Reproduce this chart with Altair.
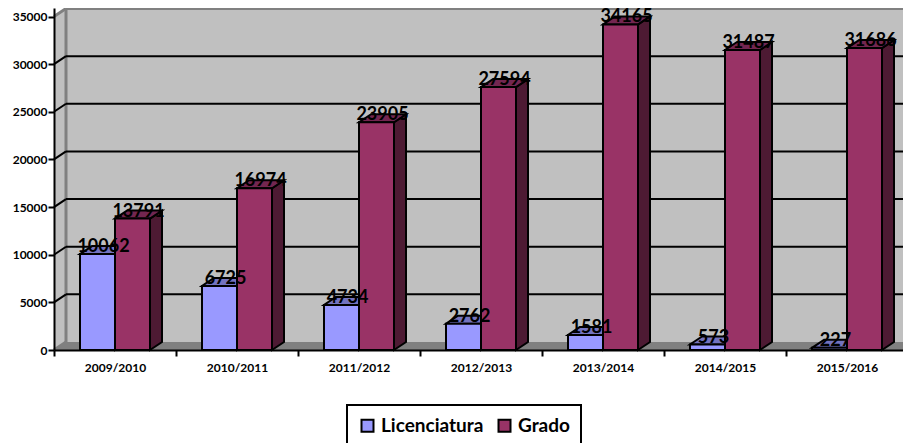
import json
import altair as alt
import pandas as pd

years = ["2009/2010", "2010/2011", "2011/2012", "2012/2013", "2013/2014", "2014/2015", "2015/2016"]
licenciatura = [10062, 6725, 4734, 2762, 1581, 573, 227]
grado = [13791, 16974, 23905, 27594, 34165, 31487, 31686]
y_ticks = [0, 5000, 10000, 15000, 20000, 25000, 30000, 35000]
series_names = ["Licenciatura", "Grado"]
series_colors = ["#9999FF", "#993366"]
top_colors = ["#7373BF", "#732650"]
side_colors = ["#4D4D80", "#4D1A33"]
FONT = "Lato"

# category units / value units of the drawn depth
PLOT_W = 849
PLOT_H = 342
PX_PER_CAT = 122.0
PX_PER_VAL = 333.5 / 35000
DX = 12 / PX_PER_CAT
DY = 8 / PX_PER_VAL
XMAX = PLOT_W / PX_PER_CAT
YMAX = PLOT_H / PX_PER_VAL
BAR_START = 26 / PX_PER_CAT
BAR_W = 35 / PX_PER_CAT

x_scale = alt.Scale(domain=[0, XMAX], nice=False, zero=False)
y_scale = alt.Scale(domain=[0, YMAX], nice=False)
label_array = json.dumps(years)
x_axis = alt.Axis(
    title=None, values=list(range(len(years))), grid=False, zindex=2,
    domainColor="black", domainWidth=2, tickColor="black", tickWidth=2, tickSize=6,
    labelFont=FONT, labelFontWeight="bold", labelFontSize=12, labelColor="black",
    labelOffset=61, labelPadding=6, labelOverlap=False, labelFlush=False, labelBound=False,
    labelExpr=f"{label_array}[datum.value]",
)
y_axis = alt.Axis(
    title=None, values=y_ticks, grid=False, zindex=2, format="d",
    domainColor="black", domainWidth=2, tickColor="black", tickWidth=2, tickSize=6,
    labelFont=FONT, labelFontWeight="bold", labelFontSize=12, labelColor="black",
    labelPadding=1, labelOverlap=False, labelBound=False,
)


def X(f):
    return alt.X(f, type="quantitative", scale=x_scale, axis=x_axis)


def Y(f):
    return alt.Y(f, type="quantitative", scale=y_scale, axis=y_axis)


wall = alt.Chart(pd.DataFrame([{"x": DX, "x2": XMAX, "y": DY, "y2": YMAX - 2 / PX_PER_VAL}])).mark_rect(
    fill="#C0C0C0"
).encode(X("x"), x2="x2", y=Y("y"), y2="y2")

left_wall = alt.Chart(pd.DataFrame([
    {"x": 0, "y": 0, "y2": 35000},
    {"x": DX, "y": DY, "y2": 35000 + DY},
])).mark_area(fill="#C0C0C0", opacity=1).encode(X("x"), y=Y("y"), y2="y2")

floor = alt.Chart(pd.DataFrame([
    {"x": 0, "y": 0, "y2": 0},
    {"x": DX, "y": 0, "y2": DY},
    {"x": XMAX, "y": 0, "y2": DY},
])).mark_area(fill="#808080", opacity=1).encode(X("x"), y=Y("y"), y2="y2")

edges = pd.DataFrame([
    {"x": DX, "x2": XMAX, "y": 35000 + DY, "y2": 35000 + DY},
    {"x": DX, "x2": DX, "y": DY, "y2": 35000 + DY},
    {"x": 0, "x2": DX, "y": 35000, "y2": 35000 + DY},
    {"x": 0, "x2": DX, "y": 0, "y2": DY},
])
edge_rules = alt.Chart(edges).mark_rule(color="#808080", strokeWidth=3).encode(
    X("x"), x2="x2", y=Y("y"), y2="y2"
)

grid_vals = [v for v in y_ticks if 0 < v < 35000]
grid_back = alt.Chart(pd.DataFrame({"v": [v + DY for v in grid_vals], "x": DX, "x2": XMAX})).mark_rule(
    color="black", strokeWidth=2
).encode(X("x"), x2="x2", y=Y("v"))
grid_diag = alt.Chart(pd.DataFrame({"y": grid_vals, "y2": [v + DY for v in grid_vals], "x": 0, "x2": DX})).mark_rule(
    color="black", strokeWidth=2
).encode(X("x"), x2="x2", y=Y("y"), y2="y2")


def faces(values, s):
    left = [i + BAR_START + s * BAR_W for i in range(len(values))]
    right = [l + BAR_W for l in left]
    top_rows, side_rows, front_rows = [], [], []
    for i, (v, l, r) in enumerate(zip(values, left, right)):
        front_rows.append({"x": l, "x2": r, "y": 0, "y2": v, "Serie": series_names[s]})
        top_rows += [{"k": i, "y": v, "x": l, "x2": r}, {"k": i, "y": v + DY, "x": l + DX, "x2": r + DX}]
        side_rows += [{"k": i, "x": r, "y": 0, "y2": v}, {"k": i, "x": r + DX, "y": DY, "y2": v + DY}]
    top = alt.Chart(pd.DataFrame(top_rows)).mark_area(
        orient="horizontal", fill=top_colors[s], stroke="black", strokeWidth=2, opacity=1
    ).encode(X("x"), x2="x2", y=Y("y"), detail="k:N")
    side = alt.Chart(pd.DataFrame(side_rows)).mark_area(
        fill=side_colors[s], stroke="black", strokeWidth=2, opacity=1
    ).encode(X("x"), y=Y("y"), y2="y2", detail="k:N")
    front = alt.Chart(pd.DataFrame(front_rows)).mark_rect(stroke="black", strokeWidth=2, opacity=1).encode(
        X("x"), x2="x2", y=Y("y"), y2="y2",
        color=alt.Color(
            "Serie:N",
            scale=alt.Scale(domain=series_names, range=series_colors),
            sort=series_names,
            legend=alt.Legend(
                orient="none", legendX=293, legendY=397, direction="horizontal", title=None,
                symbolType="square", symbolSize=144, symbolStrokeWidth=2, symbolStrokeColor="black",
                symbolOpacity=1, labelFont=FONT, labelFontWeight="bold", labelFontSize=19, labelColor="black",
                strokeColor="black", padding=11, columnPadding=10, labelOffset=4, labelLimit=300,
            ),
        ),
    )
    return [side, top, front]


rows = []
for s, vals in enumerate([licenciatura, grado]):
    for i, v in enumerate(vals):
        rows.append({"x": i + BAR_START + s * BAR_W + BAR_W / 2 + DX / 2, "y": v + DY, "t": str(v)})
labels = alt.Chart(pd.DataFrame(rows)).mark_text(
    font=FONT, fontWeight="bold", fontSize=18, color="black", baseline="middle", align="center", dy=1
).encode(X("x"), y=Y("y"), text="t:N")

chart = alt.layer(
    wall, left_wall, floor, edge_rules, grid_diag, grid_back,
    *faces(licenciatura, 0), *faces(grado, 1), labels,
).properties(
    width=PLOT_W, height=PLOT_H,
    padding={"left": 46, "top": 0, "right": 0, "bottom": 93},
    autosize=alt.AutoSizeParams(type="none"),
).configure_view(stroke=None).configure_legend(strokeWidth=2)

chart.save("out.html", embed_options={"renderer": "svg", "actions": False})
